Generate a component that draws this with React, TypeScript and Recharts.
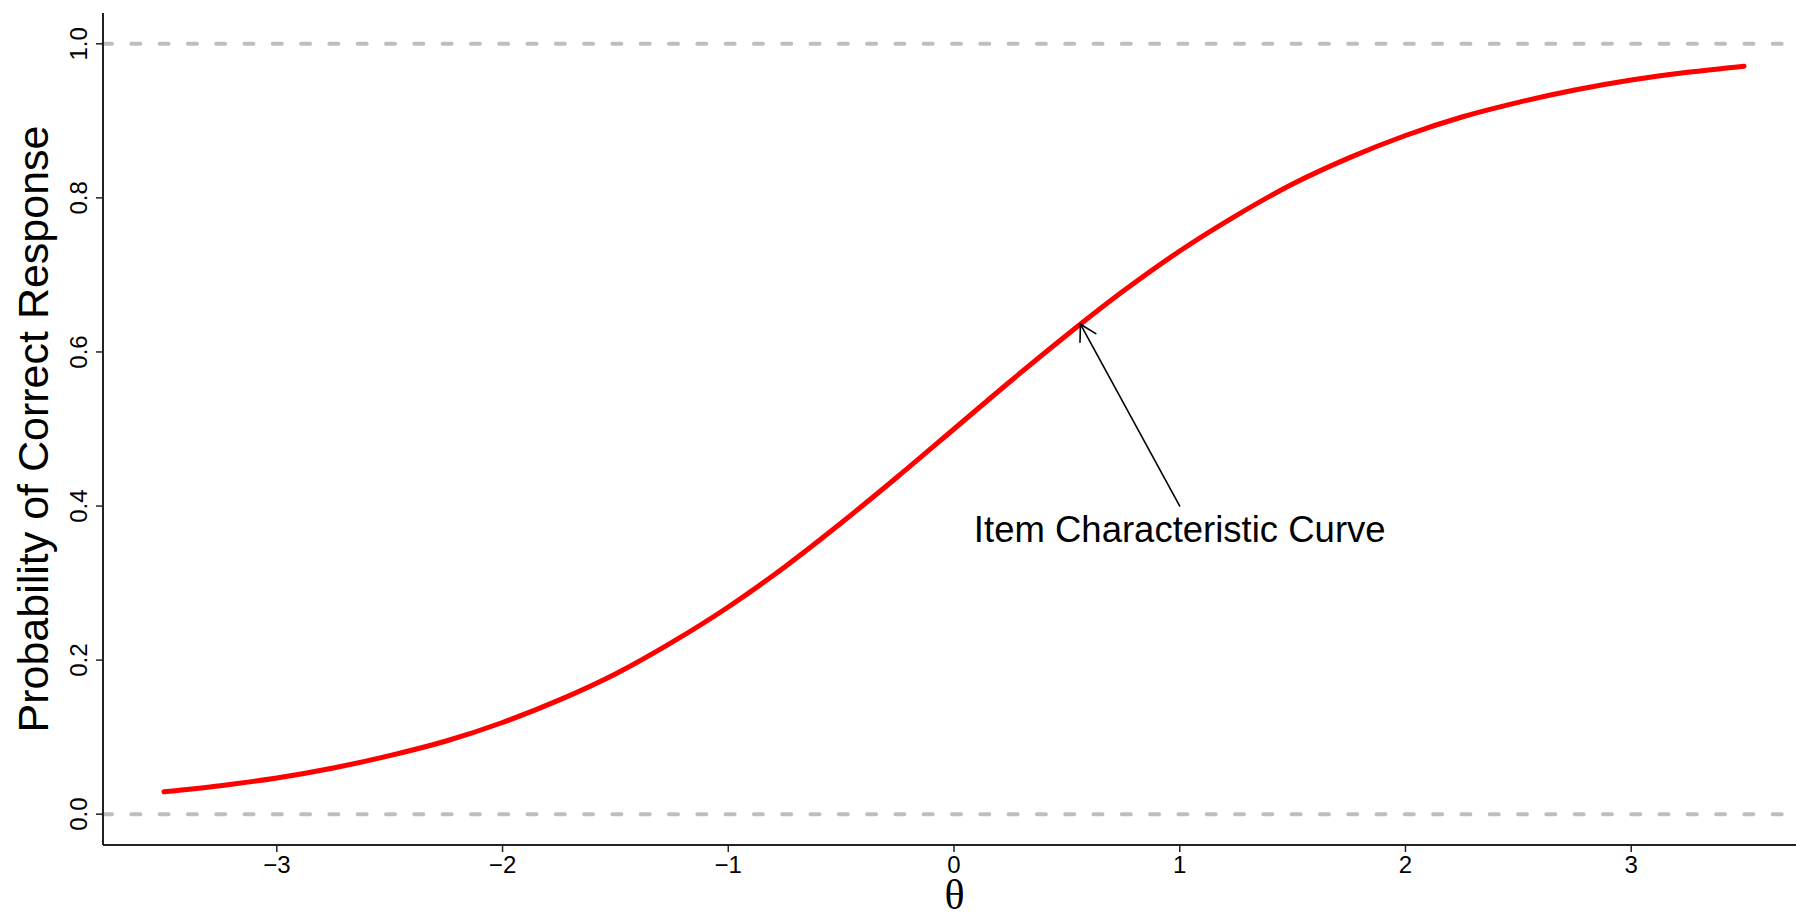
import {
  Label,
  Line,
  LineChart,
  ReferenceDot,
  ReferenceLine,
  XAxis,
  YAxis,
} from 'recharts'

// ability levels (theta) and probability of a correct response
const thetas = [
  -3.5, -3.25, -3, -2.75, -2.5, -2.25, -2, -1.75, -1.5, -1.25, -1, -0.75, -0.5, -0.25, 0,
  0.25, 0.5, 0.75, 1, 1.25, 1.5, 1.75, 2, 2.25, 2.5, 2.75, 3, 3.25, 3.5,
]
const probs = [
  0.029, 0.037, 0.047, 0.06, 0.076, 0.095, 0.119, 0.148, 0.182, 0.223, 0.269, 0.321, 0.378,
  0.438, 0.5, 0.562, 0.622, 0.679, 0.731, 0.777, 0.818, 0.852, 0.881, 0.905, 0.924, 0.94,
  0.953, 0.963, 0.971,
]

const xTicks = [-3, -2, -1, 0, 1, 2, 3]
const yTicks = [0, 0.2, 0.4, 0.6, 0.8, 1]
const guideLines = [0, 1]

// annotation: arrow from label to the curve
const arrowFrom = { x: 1.0, y: 0.4 }
const arrowTo = { x: 0.56, y: 0.636 }
const noteAt = { x: 1.0, y: 0.37 }
const noteText = 'Item Characteristic Curve'

const SANS = '"Liberation Sans", Arial, Helvetica, sans-serif'
const SERIF = '"Liberation Serif", "Times New Roman", "DejaVu Serif", serif'

const data = thetas.map((t, i) => ({ theta: t, p: probs[i] }))

function fmtX(v: number): string {
  return v < 0 ? '\u2212' + Math.abs(v) : String(v)
}

function YTick(props: any) {
  const { x, y, payload } = props
  return (
    <text
      x={x}
      y={y}
      transform={`rotate(-90 ${x} ${y})`}
      textAnchor="middle"
      fontSize={24}
      fontFamily={SANS}
      fill="#000"
    >
      {Number(payload.value).toFixed(1)}
    </text>
  )
}

function Arrow(props: any) {
  const { x1, y1, x2, y2 } = props
  if ([x1, y1, x2, y2].some((v) => typeof v !== 'number')) return <g />
  const ang = Math.atan2(y2 - y1, x2 - x1)
  const len = 18
  const spread = Math.PI / 6
  const ax = x2 - len * Math.cos(ang - spread)
  const ay = y2 - len * Math.sin(ang - spread)
  const bx = x2 - len * Math.cos(ang + spread)
  const by = y2 - len * Math.sin(ang + spread)
  return (
    <g stroke="#000" strokeWidth={1.6} fill="none" strokeLinecap="round">
      <line x1={x1} y1={y1} x2={x2} y2={y2} />
      <polyline points={`${ax},${ay} ${x2},${y2} ${bx},${by}`} />
    </g>
  )
}

function Note(props: any) {
  const { cx, cy } = props
  return (
    <text
      x={cx}
      y={cy + 13}
      textAnchor="middle"
      fontSize={36.5}
      fontFamily={SANS}
      fill="#000"
    >
      {noteText}
    </text>
  )
}

export default function App() {
  return (
    <div style={{ width: 1796, height: 916, background: '#fff', overflow: 'hidden' }}>
      <style>{'body{margin:0}'}</style>
      <LineChart
        width={1796}
        height={916}
        data={data}
        margin={{ top: 13, right: 0, bottom: 0, left: 0 }}
      >
        <XAxis
          type="number"
          dataKey="theta"
          domain={[-3.77, 3.73]}
          ticks={xTicks}
          allowDataOverflow
          height={71}
          tickSize={7}
          tickMargin={4}
          tickFormatter={fmtX}
          tick={{ fontSize: 24, fill: '#000', fontFamily: SANS }}
          axisLine={{ stroke: '#222', strokeWidth: 2 }}
          tickLine={{ stroke: '#222', strokeWidth: 1.5 }}
        >
          <Label
            content={(p: any) => {
              const vb = p.viewBox || { x: 103, y: 845, width: 1693, height: 71 }
              return (
                <text
                  x={vb.x + vb.width / 2 + 5}
                  y={vb.y + vb.height - 7}
                  textAnchor="middle"
                  fontSize={42}
                  fontFamily={SERIF}
                  fill="#000"
                >
                  θ
                </text>
              )
            }}
          />
        </XAxis>
        <YAxis
          type="number"
          domain={[-0.04, 1.04]}
          ticks={yTicks}
          allowDataOverflow
          width={103}
          tickSize={7}
          tickMargin={9}
          tick={<YTick />}
          axisLine={{ stroke: '#222', strokeWidth: 2 }}
          tickLine={{ stroke: '#222', strokeWidth: 1.5 }}
        >
          <Label
            content={(p: any) => {
              const vb = p.viewBox || { x: 0, y: 13, width: 103, height: 832 }
              const cx = vb.x + 48
              const cy = vb.y + vb.height / 2
              return (
                <text
                  x={cx}
                  y={cy}
                  transform={`rotate(-90 ${cx} ${cy})`}
                  textAnchor="middle"
                  fontSize={43}
                  fontFamily={SANS}
                  fill="#000"
                >
                  Probability of Correct Response
                </text>
              )
            }}
          />
        </YAxis>
        {guideLines.map((g) => (
          <ReferenceLine
            key={g}
            y={g}
            stroke="#BEBEBE"
            strokeWidth={4}
            strokeDasharray="9 19.3"
            strokeLinecap="round"
          />
        ))}
        <Line
          type="monotone"
          dataKey="p"
          stroke="#FF0000"
          strokeWidth={5}
          strokeLinecap="round"
          dot={false}
          activeDot={false}
          isAnimationActive={false}
        />
        <ReferenceLine segment={[arrowFrom, arrowTo]} shape={<Arrow />} />
        <ReferenceDot x={noteAt.x} y={noteAt.y} r={0} shape={<Note />} />
      </LineChart>
    </div>
  )
}
